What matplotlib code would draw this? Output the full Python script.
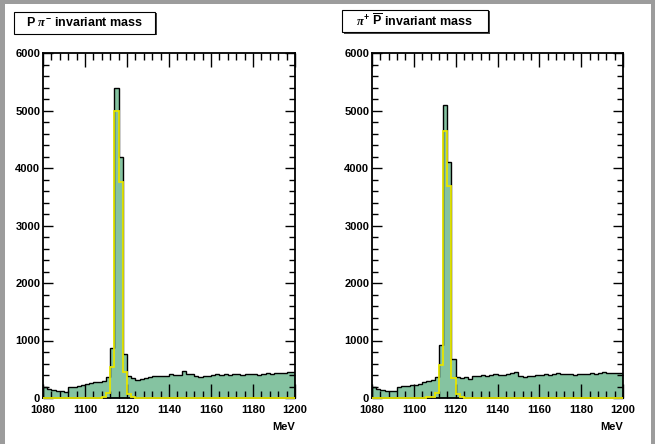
"""Lambda invariant mass spectra: P pi- and its charge conjugate, with the
matched-signal histogram overlaid in yellow."""

import matplotlib

matplotlib.use("Agg")
import matplotlib.pyplot as plt
from matplotlib.patches import Rectangle
from matplotlib.ticker import MultipleLocator
import numpy as np

plt.rcParams["font.family"] = ["Liberation Sans", "DejaVu Sans"]
plt.rcParams["font.weight"] = "bold"
plt.rcParams["mathtext.fontset"] = "custom"
plt.rcParams["mathtext.rm"] = "Liberation Sans:bold"
plt.rcParams["mathtext.bf"] = "Liberation Sans:bold"
plt.rcParams["mathtext.it"] = "Liberation Serif:italic"

# 2 MeV bins, 1080-1200 MeV
EDGES = np.arange(1080, 1201, 2)

# all reconstructed p pi- pairs
ALL_PPIM = [190, 150, 135, 130, 120, 110, 185, 200, 215, 225,
            240, 255, 285, 280, 300, 360, 870, 5400, 4200, 760,
            380, 340, 320, 330, 355, 365, 375, 380, 390, 380,
            420, 400, 395, 465, 420, 425, 385, 370, 380, 390,
            395, 410, 400, 420, 405, 415, 420, 400, 410, 420,
            415, 405, 425, 430, 420, 435, 430, 440, 460, 450]
# truth-matched Lambda -> p pi-
SIG_PPIM = [0, 0, 0, 0, 0, 0, 0, 0, 0, 0,
            0, 0, 0, 0, 15, 80, 540, 5000, 3750, 460,
            70, 10, 0, 0, 0, 0, 0, 0, 0, 0,
            0, 0, 0, 0, 0, 0, 0, 0, 0, 0,
            0, 0, 0, 0, 0, 0, 0, 0, 0, 0,
            0, 0, 0, 0, 0, 0, 0, 0, 0, 0]

# all reconstructed pi+ pbar pairs
ALL_PIPB = [200, 150, 135, 130, 125, 120, 190, 205, 215, 220,
            230, 250, 270, 290, 305, 360, 920, 5100, 4100, 680,
            360, 340, 365, 330, 375, 390, 400, 385, 395, 410,
            405, 395, 420, 440, 445, 390, 360, 375, 385, 395,
            400, 410, 395, 420, 440, 420, 410, 425, 395, 420,
            425, 410, 430, 420, 440, 445, 430, 435, 440, 440]
# truth-matched anti-Lambda -> pbar pi+
SIG_PIPB = [0, 0, 0, 0, 0, 0, 0, 0, 0, 0,
            0, 0, 0, 10, 20, 90, 575, 4650, 3680, 350,
            70, 10, 0, 0, 0, 0, 0, 0, 0, 0,
            0, 0, 0, 0, 0, 0, 0, 0, 0, 0,
            0, 0, 0, 0, 0, 0, 0, 0, 0, 0,
            0, 0, 0, 0, 0, 0, 0, 0, 0, 0]

TITLES = [r"P $\pi^{-}$ invariant mass",
          r"$\pi^{+}$ $\overline{\mathrm{P}}$ invariant mass"]

FILL = "#85c3a1"
SIGCOL = "#e6e600"

W, H = 655, 444
fig = plt.figure(figsize=(W / 100, H / 100), dpi=100, facecolor="#9c9c9c")
fig.patches.append(Rectangle((4.5 / W, 0), (650.5 - 4.5) / W, 1 - 4.3 / H,
                             transform=fig.transFigure, facecolor="white",
                             edgecolor="none", zorder=-5))


def pad(x0, x1, title_box, title, hall, hsig):
    ax = fig.add_axes([x0 / W, 1 - 398 / H, (x1 - x0) / W, (398 - 53) / H])
    ax.stairs(hall, EDGES, fill=True, color=FILL, zorder=1)
    ax.stairs(hall, EDGES, color="black", lw=1.0, zorder=2)
    ax.stairs(hsig, EDGES, color=SIGCOL, lw=1.3, zorder=3, clip_on=False)
    ax.set_xlim(1080, 1200)
    ax.set_ylim(0, 6000)
    ax.xaxis.set_major_locator(MultipleLocator(20))
    ax.xaxis.set_minor_locator(MultipleLocator(4))
    ax.yaxis.set_major_locator(MultipleLocator(1000))
    ax.yaxis.set_minor_locator(MultipleLocator(200))
    ax.tick_params(which="both", direction="in", top=True, right=True,
                   labelsize=8, width=1.0)
    ax.tick_params(axis="x", which="major", length=10, pad=5)
    ax.tick_params(axis="x", which="minor", length=5)
    ax.tick_params(axis="y", which="major", length=7, pad=2)
    ax.tick_params(axis="y", which="minor", length=4)
    for s in ax.spines.values():
        s.set_linewidth(1.3)
    for lab in ax.get_xticklabels() + ax.get_yticklabels():
        lab.set_fontweight("bold")
    ax.text(1.0, -0.07, "MeV", transform=ax.transAxes, ha="right",
            va="top", fontsize=8, fontweight="bold")

    # title pave with a small drop shadow
    bx0, by0, bx1, by1 = title_box
    fig.patches.append(Rectangle(((bx0 + 1.5) / W, 1 - (by1 + 1.5) / H),
                                 (bx1 - bx0) / W, (by1 - by0) / H,
                                 transform=fig.transFigure, facecolor="#444444",
                                 edgecolor="none", zorder=1))
    fig.patches.append(Rectangle((bx0 / W, 1 - by1 / H),
                                 (bx1 - bx0) / W, (by1 - by0) / H,
                                 transform=fig.transFigure, facecolor="white",
                                 edgecolor="black", lw=0.8, zorder=2))
    fig.text((bx0 + bx1) / 2 / W, 1 - (by0 + by1) / 2 / H, title,
             ha="center", va="center", fontsize=9, fontweight="bold")
    return ax


pad(43, 295, (14, 12, 155, 34), TITLES[0], ALL_PPIM, SIG_PPIM)
pad(372, 623, (342, 10, 488, 32), TITLES[1], ALL_PIPB, SIG_PIPB)

fig.savefig("out.png", dpi=100, facecolor=fig.get_facecolor())
